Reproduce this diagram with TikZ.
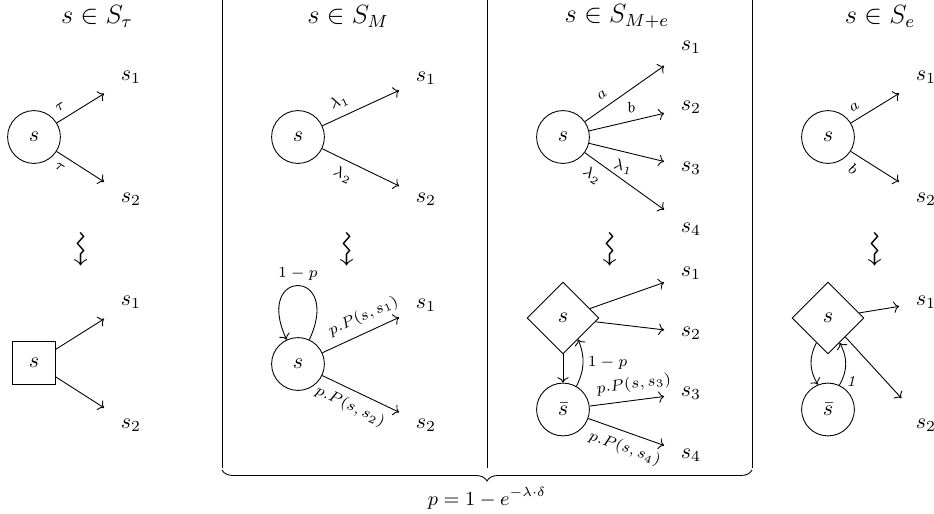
\documentclass[tikz,border=0pt]{standalone}
\usepackage{amsmath,amssymb}
\usepackage{tikz}
\usetikzlibrary{shapes.geometric, arrows.meta, positioning,
                decorations.pathreplacing, calc}

\begin{document}
\begin{tikzpicture}[
  x=0.4545pt, y=0.4545pt,
  circ/.style={circle, draw, minimum size=24pt, inner sep=0pt},
  sq/.style={rectangle, draw, minimum size=19.5pt, inner sep=0pt},
  diam/.style={diamond, draw, minimum size=32.7pt, inner sep=0pt},
  tgt/.style={rectangle, minimum size=24pt, inner sep=0pt},
  ttl/.style={font=\large},
  lblf/.style={font=\scriptsize, inner sep=3.5pt},
  lbl/.style={lblf, sloped},
  arrow/.style={->},
  wave/.style={rotate=-90, font=\LARGE, inner sep=0pt}
]
\useasboundingbox (0,0) rectangle (934,-513);

% Tau
\node[ttl] (h1) at (97,-16) {$s \in S_\tau$};
\node[circ] (s1a) at (34,-137) {$s$};
\node[tgt]  (t1a) at (131,-77)  {$s_1$};
\node[tgt]  (t1b) at (131,-199) {$s_2$};
\draw[arrow] (s1a) -- node[lbl, above, pos=0.2] (e1a) {$\tau$} (t1a);
\draw[arrow] (s1a) -- node[lbl, below, pos=0.2] (e1b) {$\tau$} (t1b);
\node[wave] (w1) at (79,-250) {$\rightsquigarrow$};
\node[sq]   (s1b) at (34,-363) {$s$};
\node[tgt]  (t1c) at (131,-302) {$s_1$};
\node[tgt]  (t1d) at (131,-425) {$s_2$};
\draw[arrow] (s1b) -- (t1c);
\draw[arrow] (s1b) -- (t1d);

% Markov
\node[ttl] (h2) at (348,-16) {$s \in S_M$};
\node[circ] (s2a) at (298,-137) {$s$};
\node[tgt]  (t2a) at (426,-78)  {$s_1$};
\node[tgt]  (t2b) at (426,-199) {$s_2$};
\draw[arrow] (s2a) -- node[lbl, above, pos=0.3] (e2a) {$\lambda_1$} (t2a);
\draw[arrow] (s2a) -- node[lbl, below, pos=0.35] (e2b) {$\lambda_2$} (t2b);
\node[wave] (w2) at (345,-250) {$\rightsquigarrow$};
\node[circ] (s2b) at (298,-364) {$s$};
\node[tgt]  (t2c) at (426,-305) {$s_1$};
\node[tgt]  (t2d) at (426,-425) {$s_2$};
\draw[arrow] (s2b.65) to[out=65, in=115, looseness=9] node[lblf, above, inner sep=2pt] (lp2) {$1-p$} (s2b.115);
\draw[arrow] (s2b) -- node[lbl, above, pos=0.62] (e2c) {$p.P(s,s_1)$} (t2c);
\draw[arrow] (s2b) -- node[lbl, below, pos=0.45] (e2d) {$p.P(s,s_2)$} (t2d);

% Markov + e
\node[ttl] (h3) at (617,-16) {$s \in S_{M+e}$};
\node[circ] (s3a) at (563,-137) {$s$};
\node[tgt]  (t3a) at (691,-47)  {$s_1$};
\node[tgt]  (t3b) at (691,-107) {$s_2$};
\node[tgt]  (t3c) at (691,-168) {$s_3$};
\node[tgt]  (t3d) at (691,-229) {$s_4$};
\draw[arrow] (s3a) -- node[lbl, above, pos=0.3]  (e3a) {$a$} (t3a);
\draw[arrow] (s3a) -- node[lbl, above, pos=0.6]  (e3b) {$b$} (t3b);
\draw[arrow] (s3a) -- node[lbl, below, pos=0.5]  (e3c) {$\lambda_1$} (t3c);
\draw[arrow] (s3a) -- node[lbl, below, pos=0.2]  (e3d) {$\lambda_2$} (t3d);
\node[wave] (w3) at (608,-250) {$\rightsquigarrow$};
\node[diam] (d3)  at (563,-318)   {$s$};
\node[circ] (sb3) at (563,-409.5) {$\bar{s}$};
\node[tgt]  (t3e) at (691,-273) {$s_1$};
\node[tgt]  (t3f) at (691,-333) {$s_2$};
\node[tgt]  (t3g) at (691,-393) {$s_3$};
\node[tgt]  (t3h) at (691,-455) {$s_4$};
\draw[arrow] (d3) -- (sb3);
\draw[arrow] (sb3.60) to[bend right=25] node[lblf, right, inner sep=2pt] (lp3) {$1-p$} (d3.-55);
\draw[arrow] (d3) -- (t3e);
\draw[arrow] (d3) -- (t3f);
\draw[arrow] (sb3) -- node[lbl, above, pos=0.62] (e3g) {$p.P(s,s_3)$} (t3g);
\draw[arrow] (sb3) -- node[lbl, below, pos=0.55] (e3h) {$p.P(s,s_4)$} (t3h);

% e
\node[ttl] (h4) at (880,-16) {$s \in S_e$};
\node[circ] (s4a) at (828,-137) {$s$};
\node[tgt]  (t4a) at (926,-77)  {$s_1$};
\node[tgt]  (t4b) at (926,-199) {$s_2$};
\draw[arrow] (s4a) -- node[lbl, above, pos=0.2] (e4a) {$a$} (t4a);
\draw[arrow] (s4a) -- node[lbl, below, pos=0.2] (e4b) {$b$} (t4b);
\node[wave] (w4) at (873,-250) {$\rightsquigarrow$};
\node[diam] (d4)  at (828,-318)   {$s$};
\node[circ] (sb4) at (828,-409.5) {$\bar{s}$};
\node[tgt]  (t4c) at (926,-302) {$s_1$};
\node[tgt]  (t4d) at (926,-425) {$s_2$};
\draw[arrow] (d4.-115) to[bend right=30] (sb4.112);
\draw[arrow] (sb4.65) to[bend right=30] node[lblf, right, pos=0.1, inner sep=2pt] (lp4) {\textit{1}} (d4.-65);
\draw[arrow] (d4) -- (t4c);
\draw[arrow] (d4) -- (t4d);

% Trennlinien und Klammer
\draw (222,0) -- (222,-468);
\draw (487,0) -- (487,-468);
\draw (752,0) -- (752,-468);
\draw[decorate, decoration={brace, mirror, amplitude=5pt}] (222,-470) -- (752,-470)
  node[midway, below=4.5pt, font=\small] (pf) {$p = 1 - e^{-\lambda\cdot\delta}$};

\end{tikzpicture}
\end{document}
